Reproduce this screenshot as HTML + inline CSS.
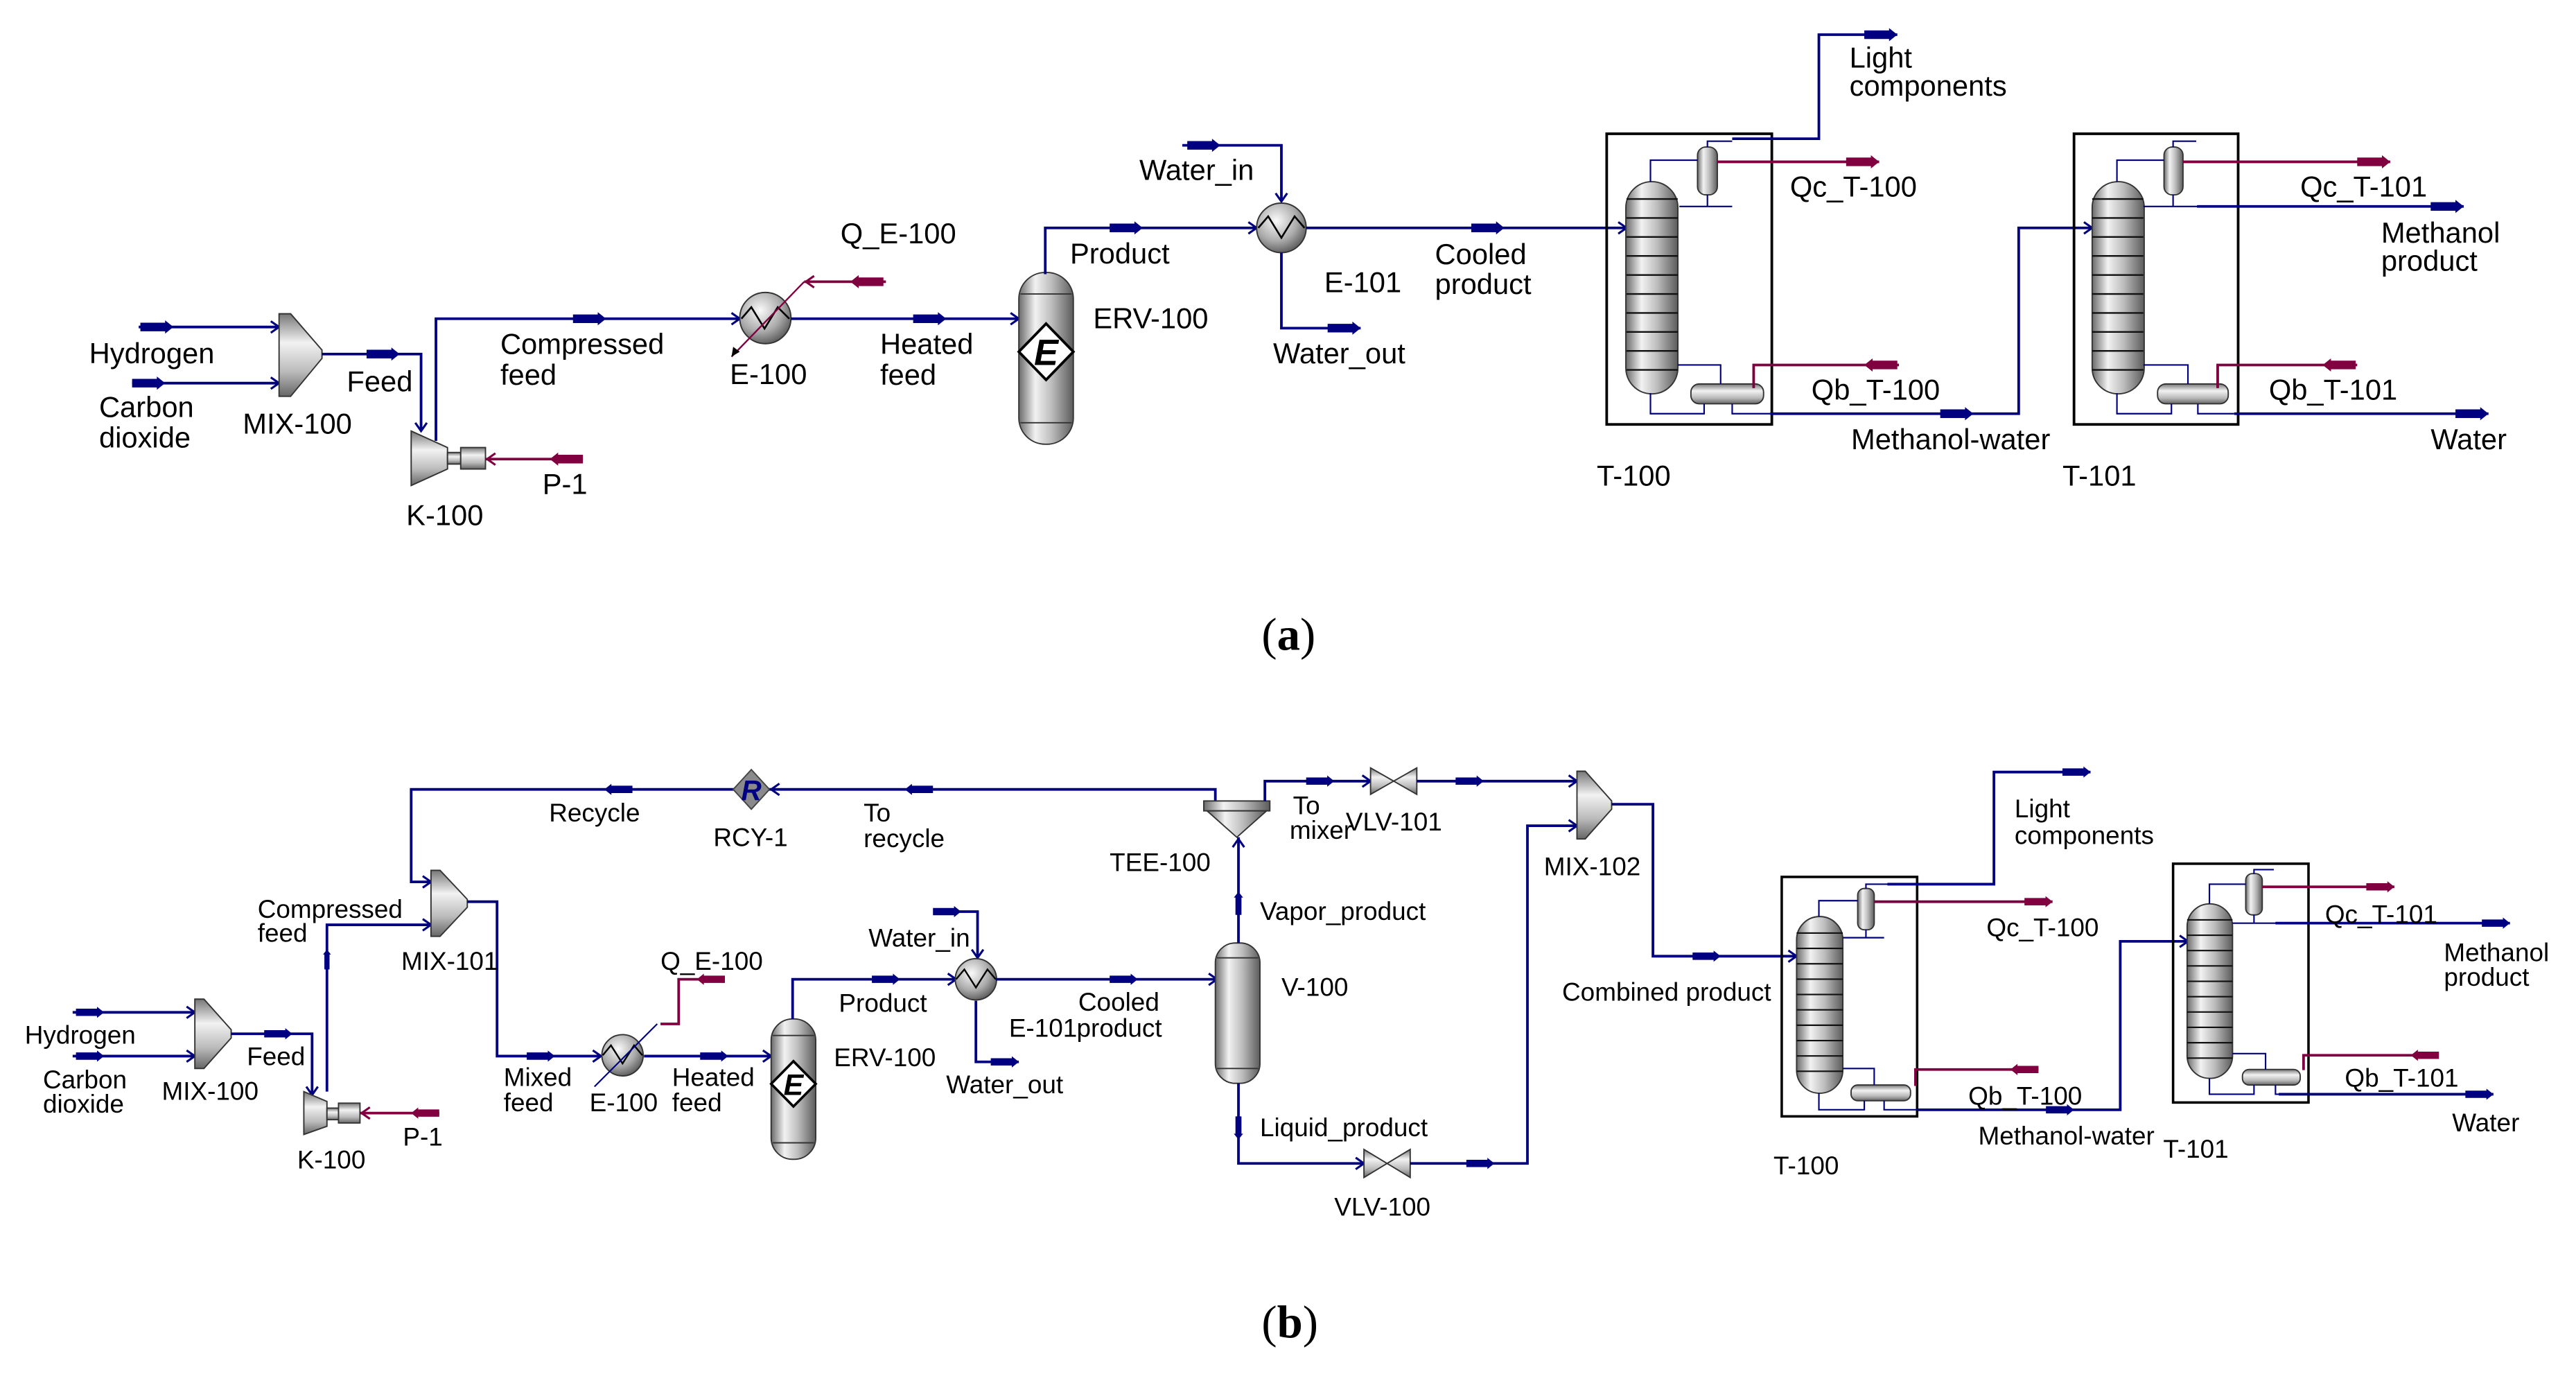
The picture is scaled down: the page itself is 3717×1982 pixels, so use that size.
<!DOCTYPE html>
<html><head><meta charset="utf-8">
<style>
html,body{margin:0;padding:0;background:#fff;}
svg{display:block;}
.a{font-family:"Liberation Sans",Arial,sans-serif;font-size:17.5px;fill:#000;}
.b{font-family:"Liberation Sans",Arial,sans-serif;font-size:15.5px;fill:#000;}
.ln{fill:none;stroke:#000080;stroke-width:1.6;}
.lt{fill:none;stroke:#000080;stroke-width:0.9;}
.rl{fill:none;stroke:#800040;stroke-width:1.6;}
.eq{stroke:#333;stroke-width:0.8;}
</style></head>
<body>
<svg width="3717" height="1982" viewBox="0 0 1560 832" preserveAspectRatio="none" xmlns="http://www.w3.org/2000/svg">
<defs>
<linearGradient id="gv" x1="0" y1="0" x2="1" y2="0">
<stop offset="0" stop-color="#6a6a6a"/><stop offset="0.3" stop-color="#f2f2f2"/><stop offset="0.6" stop-color="#bdbdbd"/><stop offset="1" stop-color="#5c5c5c"/></linearGradient>
<linearGradient id="gh" x1="0" y1="0" x2="0" y2="1">
<stop offset="0" stop-color="#777"/><stop offset="0.35" stop-color="#f2f2f2"/><stop offset="0.7" stop-color="#bbb"/><stop offset="1" stop-color="#666"/></linearGradient>
<radialGradient id="gr" cx="0.4" cy="0.35" r="0.7">
<stop offset="0" stop-color="#fafafa"/><stop offset="0.6" stop-color="#aaa"/><stop offset="1" stop-color="#555"/></radialGradient>
<path id="bb" d="M-20,-2.6 H-5 V-4 L0,0 L-5,4 V2.6 H-20 Z" fill="#000080"/>
<path id="rb" d="M-20,-2.6 H-5 V-4 L0,0 L-5,4 V2.6 H-20 Z" fill="#800040"/>
<path id="ch" d="M-5,-3.5 L0,0 L-5,3.5" fill="none" stroke="#000080" stroke-width="1.3"/>
<path id="chr" d="M-5,-3.5 L0,0 L-5,3.5" fill="none" stroke="#800040" stroke-width="1.3"/>
</defs>

<!-- ================= (a) ================= -->
<!-- streams -->
<path class="ln" d="M84,198 H169"/><use href="#bb" transform="translate(105,198)"/><use href="#ch" transform="translate(169,198)"/>
<path class="ln" d="M80,232 H169"/><use href="#bb" transform="translate(100,232)"/><use href="#ch" transform="translate(169,232)"/>
<polygon class="eq" fill="url(#gh)" points="169,190 176,190 195,212 195,217 176,240 169,240"/>
<path class="ln" d="M195,214.4 H255 V261"/><use href="#bb" transform="translate(242,214.4)"/><use href="#ch" transform="translate(255,261) rotate(90)"/>
<!-- K-100 -->
<polygon class="eq" fill="url(#gh)" points="249,261 271,271 271,284 249,294"/>
<rect class="eq" x="271" y="274" width="8" height="7" fill="url(#gh)"/>
<rect class="eq" x="279" y="271" width="15" height="13" fill="url(#gh)"/>
<path class="rl" d="M353,278 H294"/><use href="#rb" transform="translate(333,278) scale(-1,1)"/><use href="#chr" transform="translate(295,278) scale(-1,1)"/>
<path class="ln" d="M264,267 V193 H448"/><use href="#bb" transform="translate(367,193)"/><use href="#ch" transform="translate(448,193)"/>
<!-- E-100 -->
<circle class="eq" cx="463.5" cy="192.6" r="15.5" fill="url(#gr)"/>
<polyline points="449,193 455,186 463,199 471,186 478,193" fill="none" stroke="#000" stroke-width="1.1"/>
<path class="rl" d="M536.5,170.6 H487"/><path fill="none" stroke="#800040" stroke-width="1" d="M487,170.6 L443,216"/><path d="M443,216 l1,-6 l4,3 z" fill="#000"/>
<use href="#rb" transform="translate(515,170.6) scale(-1,1)"/><use href="#chr" transform="translate(488,170.6) scale(-1,1)"/>
<path class="ln" d="M479,193 H617"/><use href="#bb" transform="translate(573,193)"/><use href="#ch" transform="translate(617,193)"/>
<!-- ERV-100 -->
<rect class="eq" x="617" y="165" width="33" height="104" rx="16" fill="url(#gv)"/>
<path d="M618,178 H649 M618,256 H649" stroke="#333" stroke-width="0.8"/>
<polygon points="633.5,196 650,213 633.5,230 617,213" fill="#fff" stroke="#000" stroke-width="1.6"/>
<text x="633.5" y="221" text-anchor="middle" font-family="Liberation Sans,sans-serif" font-size="22" font-weight="bold" font-style="italic">E</text>
<path class="ln" d="M633,166 V138 H761"/><use href="#bb" transform="translate(692,138)"/><use href="#ch" transform="translate(761,138)"/>
<path class="ln" d="M716,88 H776 V122"/><use href="#bb" transform="translate(739,88)"/><use href="#ch" transform="translate(776,122) rotate(90)"/>
<circle class="eq" cx="776" cy="138" r="15" fill="url(#gr)"/>
<polyline points="762,138 768,131 776,144 784,131 790,138" fill="none" stroke="#000" stroke-width="1.1"/>
<path class="ln" d="M776,153 V198.7 H824"/><use href="#bb" transform="translate(824,198.7)"/>
<path class="ln" d="M791,138 H984"/><use href="#bb" transform="translate(911,138)"/><use href="#ch" transform="translate(985,138)"/>
<!-- T-100 (a) -->
<rect x="973" y="81" width="100" height="176" fill="none" stroke="#000" stroke-width="1.6"/>
<rect class="eq" x="984.6" y="110" width="31.5" height="128.5" rx="15.7" fill="url(#gv)"/>
<path stroke="#111" stroke-width="1" d="M985,120.5H1016M985,132H1016M985,143.5H1016M985,155H1016M985,166.5H1016M985,178H1016M985,189.5H1016M985,201H1016M985,212.5H1016M985,224H1016"/>
<rect class="eq" x="1028" y="89" width="12" height="29" rx="5" fill="url(#gv)"/>
<path class="lt" d="M999.5,110 V97 H1028 M1034,118 V125 M1017,125 H1049 M1034,89 V85.5 H1049"/>
<path class="ln" d="M1049,84 H1101.5 V21 H1149"/><use href="#bb" transform="translate(1149,21)"/>
<path class="rl" d="M1040,98 H1138"/><use href="#rb" transform="translate(1138,98)"/>
<rect class="eq" x="1024" y="232.5" width="44" height="12" rx="5" fill="url(#gh)"/>
<path class="lt" d="M1016,221 H1042 V232.5 M999.5,238 V250.5 H1032 V244.5 M1049,244.5 V250.5 H1072"/>
<path class="rl" d="M1150,221 H1062 V235"/><use href="#rb" transform="translate(1129,221) scale(-1,1)"/>
<path class="ln" d="M1072,250.5 H1222.5 V138 H1267"/><use href="#bb" transform="translate(1195,250.5)"/><use href="#ch" transform="translate(1267,138)"/>
<!-- T-101 (a) -->
<rect x="1256" y="81" width="99.4" height="176" fill="none" stroke="#000" stroke-width="1.6"/>
<rect class="eq" x="1267" y="110" width="31.5" height="128.5" rx="15.7" fill="url(#gv)"/>
<path stroke="#111" stroke-width="1" d="M1267,120.5H1298M1267,132H1298M1267,143.5H1298M1267,155H1298M1267,166.5H1298M1267,178H1298M1267,189.5H1298M1267,201H1298M1267,212.5H1298M1267,224H1298"/>
<rect class="eq" x="1310.5" y="89" width="11.5" height="29" rx="5" fill="url(#gv)"/>
<path class="lt" d="M1282,110 V97 H1310.5 M1316,118 V125 M1298,125 H1331 M1316,89 V85.5 H1330"/>
<path class="ln" d="M1330.5,125 H1492"/><use href="#bb" transform="translate(1492,125)"/>
<path class="rl" d="M1322,98 H1447.5"/><use href="#rb" transform="translate(1447.5,98)"/>
<rect class="eq" x="1306.6" y="232.5" width="42.8" height="12" rx="5" fill="url(#gh)"/>
<path class="lt" d="M1298,221 H1325 V232.5 M1282,238 V250.5 H1315 V244.5 M1331,244.5 V250.5 H1353"/>
<path class="rl" d="M1427.5,221 H1343 V235"/><use href="#rb" transform="translate(1406.6,221) scale(-1,1)"/>
<path class="ln" d="M1353,250.5 H1507"/><use href="#bb" transform="translate(1507,250.5)"/>

<!-- labels (a) -->
<g class="a">
<text x="54" y="220">Hydrogen</text>
<text x="60" y="252.5">Carbon</text><text x="60" y="271">dioxide</text>
<text x="147" y="262.6">MIX-100</text>
<text x="210" y="237">Feed</text>
<text x="246" y="318">K-100</text>
<text x="328.5" y="299">P-1</text>
<text x="303" y="214.4">Compressed</text><text x="303" y="233">feed</text>
<text x="509" y="147.4">Q_E-100</text>
<text x="442" y="232.5">E-100</text>
<text x="533" y="214.4">Heated</text><text x="533" y="233">feed</text>
<text x="662" y="198.7">ERV-100</text>
<text x="648" y="159.5">Product</text>
<text x="690" y="109">Water_in</text>
<text x="771" y="220">Water_out</text>
<text x="802" y="177">E-101</text>
<text x="869" y="160">Cooled</text><text x="869" y="178">product</text>
<text x="1120" y="41">Light</text><text x="1120" y="58">components</text>
<text x="1084" y="119">Qc_T-100</text>
<text x="1097" y="242">Qb_T-100</text>
<text x="1121" y="272">Methanol-water</text>
<text x="967" y="294">T-100</text>
<text x="1393" y="119">Qc_T-101</text>
<text x="1442" y="147">Methanol</text><text x="1442" y="164">product</text>
<text x="1374" y="242">Qb_T-101</text>
<text x="1472" y="272">Water</text>
<text x="1249" y="294">T-101</text>
</g>
<text x="764" y="393.6" font-family="Liberation Serif,serif" font-size="28">(<tspan font-weight="bold">a</tspan>)</text>

<!-- ================= (b) ================= -->
<path class="ln" d="M44,613 H118"/><use href="#bb" transform="translate(63,613) scale(0.85)"/><use href="#ch" transform="translate(118,613)"/>
<path class="ln" d="M44,639.5 H118"/><use href="#bb" transform="translate(63,639.5) scale(0.85)"/><use href="#ch" transform="translate(118,639.5)"/>
<polygon class="eq" fill="url(#gh)" points="118,605 123.5,605 140,623.5 140,628.5 123.5,647 118,647"/>
<path class="ln" d="M140,626 H189 V663"/><use href="#bb" transform="translate(177,626) scale(0.85)"/><use href="#ch" transform="translate(189,663) rotate(90)"/>
<polygon class="eq" fill="url(#gh)" points="184,661 198,667 198,682 184,687"/>
<rect class="eq" x="198" y="671" width="7" height="7" fill="url(#gh)"/>
<rect class="eq" x="205" y="668" width="13" height="12" fill="url(#gh)"/>
<path class="rl" d="M266,674 H218"/><use href="#rb" transform="translate(249,674) scale(-0.85,0.85)"/><use href="#chr" transform="translate(219,674) scale(-1,1)"/>
<path class="ln" d="M198,661 V560 H261"/><use href="#bb" transform="translate(198,575) rotate(-90) scale(0.6)"/><use href="#ch" transform="translate(261,560)"/>
<!-- recycle -->
<path class="ln" d="M736,485 V478 H249 V534 H261"/><use href="#ch" transform="translate(261,534)"/>
<use href="#bb" transform="translate(366,478) scale(-0.85,0.85)"/><use href="#bb" transform="translate(548,478) scale(-0.85,0.85)"/>
<polygon points="455,466 466,478 455,490 444,478" fill="#8a8a8a" stroke="#444" stroke-width="0.8"/>
<text x="455" y="484.5" text-anchor="middle" font-family="Liberation Sans,sans-serif" font-size="17" font-weight="bold" font-style="italic" fill="#000080">R</text>
<use href="#ch" transform="translate(467,478) scale(-1,1)"/>
<polygon class="eq" fill="url(#gh)" points="261,527 266.5,527 283,544.6 283,549.4 266.5,567 261,567"/>
<path class="ln" d="M283,546 H301 V639.5 H363"/><use href="#bb" transform="translate(336,639.5) scale(0.85)"/><use href="#ch" transform="translate(364,639.5)"/>
<circle class="eq" cx="377" cy="639" r="12.5" fill="url(#gr)"/>
<polyline points="365,639 370,633 377,644 384,633 389,639" fill="none" stroke="#000" stroke-width="1"/>
<path class="rl" d="M439,593 H411 V620 H400"/><path fill="none" stroke="#000080" stroke-width="0.9" d="M398,620 L360,658"/>
<use href="#rb" transform="translate(422,593) scale(-0.85,0.85)"/>
<path class="ln" d="M390,639.5 H467"/><use href="#bb" transform="translate(441,639.5) scale(0.85)"/><use href="#ch" transform="translate(467,639.5)"/>
<!-- ERV-100 b -->
<rect class="eq" x="467" y="617" width="27" height="85" rx="13" fill="url(#gv)"/>
<path d="M468,627 H493 M468,692 H493" stroke="#333" stroke-width="0.8"/>
<polygon points="480.5,642.6 494,656.3 480.5,670 467,656.3" fill="#fff" stroke="#000" stroke-width="1.5"/>
<text x="480.5" y="663" text-anchor="middle" font-family="Liberation Sans,sans-serif" font-size="18" font-weight="bold" font-style="italic">E</text>
<path class="ln" d="M480,617 V593 H579"/><use href="#bb" transform="translate(545,593) scale(0.85)"/><use href="#ch" transform="translate(579,593)"/>
<path class="ln" d="M567,552 H592 V580"/><use href="#bb" transform="translate(582,552) scale(0.85)"/><use href="#ch" transform="translate(592,580) rotate(90)"/>
<circle class="eq" cx="591" cy="593" r="12.5" fill="url(#gr)"/>
<polyline points="579,593 584,587 591,598 598,587 603,593" fill="none" stroke="#000" stroke-width="1"/>
<path class="ln" d="M591,606 V643 H617"/><use href="#bb" transform="translate(617,643) scale(0.85)"/>
<path class="ln" d="M603,593 H736"/><use href="#bb" transform="translate(689,593) scale(0.85)"/><use href="#ch" transform="translate(737,593)"/>
<!-- V-100 -->
<rect class="eq" x="736" y="571" width="27" height="85" rx="12" fill="url(#gv)"/>
<path d="M737,580 H762 M737,647 H762" stroke="#333" stroke-width="0.8"/>
<path class="ln" d="M750,571 V507"/><use href="#bb" transform="translate(750,540) rotate(-90) scale(0.7)"/><use href="#ch" transform="translate(750,508) rotate(-90)"/>
<!-- TEE -->
<rect class="eq" x="729" y="485" width="40" height="6" fill="url(#gv)"/>
<polygon class="eq" fill="url(#gv)" points="731,491 767,491 749,507"/>
<path class="ln" d="M766,485 V473 H830"/><use href="#bb" transform="translate(808,473) scale(0.85)"/><use href="#ch" transform="translate(830,473)"/>
<polygon class="eq" fill="url(#gh)" points="830,465 844,473 830,481"/><polygon class="eq" fill="url(#gh)" points="858,465 844,473 858,481"/>
<path class="ln" d="M858,473 H955"/><use href="#bb" transform="translate(898.5,473) scale(0.85)"/><use href="#ch" transform="translate(955,473)"/>
<path class="ln" d="M750,656 V704.5 H826"/><use href="#bb" transform="translate(750,690) rotate(90) scale(0.7)"/><use href="#ch" transform="translate(826,704.5)"/>
<polygon class="eq" fill="url(#gh)" points="826,696 840,704.5 826,713"/><polygon class="eq" fill="url(#gh)" points="854,696 840,704.5 854,713"/>
<path class="ln" d="M854,704.5 H925 V500 H955"/><use href="#bb" transform="translate(905,704.5) scale(0.85)"/><use href="#ch" transform="translate(955,500)"/>
<polygon class="eq" fill="url(#gh)" points="955,467 960,467 976,485 976,490 960,508 955,508"/>
<path class="ln" d="M976,487 H1001 V579 H1088"/><use href="#bb" transform="translate(1042,579) scale(0.85)"/><use href="#ch" transform="translate(1088,579)"/>
<!-- T-100 b -->
<rect x="1079" y="531" width="82" height="145" fill="none" stroke="#000" stroke-width="1.5"/>
<rect class="eq" x="1088" y="555" width="28" height="107" rx="14" fill="url(#gv)"/>
<path stroke="#111" stroke-width="0.9" d="M1088,565H1116M1088,574.3H1116M1088,583.6H1116M1088,592.9H1116M1088,602.2H1116M1088,611.5H1116M1088,620.8H1116M1088,630.1H1116M1088,639.4H1116M1088,648.7H1116"/>
<rect class="eq" x="1125" y="538" width="10" height="25" rx="4" fill="url(#gv)"/>
<path class="lt" d="M1101.5,555 V545.4 H1125 M1130,563 V567.8 H1116 M1130,567.8 H1141 M1130,538 V535.4 H1145"/>
<path class="ln" d="M1143,535.4 H1207.5 V467.5 H1266"/><use href="#bb" transform="translate(1266,467.5) scale(0.85)"/>
<path class="rl" d="M1135,546 H1243"/><use href="#rb" transform="translate(1243,546) scale(0.85)"/>
<rect class="eq" x="1121" y="657" width="36" height="9.5" rx="4" fill="url(#gh)"/>
<path class="lt" d="M1116,647 H1135 V657 M1101.5,662 V672 H1129 V666.5 M1141,666.5 V672 H1161"/>
<path class="rl" d="M1234.5,647.6 H1160 V657.6"/><use href="#rb" transform="translate(1217.5,647.6) scale(-0.85,0.85)"/>
<path class="ln" d="M1161,672 H1284 V570 H1324"/><use href="#bb" transform="translate(1256,672) scale(0.85)"/><use href="#ch" transform="translate(1325,570)"/>
<!-- T-101 b -->
<rect x="1316" y="523" width="82" height="144.6" fill="none" stroke="#000" stroke-width="1.5"/>
<rect class="eq" x="1324.5" y="547.3" width="27.5" height="105.7" rx="13.7" fill="url(#gv)"/>
<path stroke="#111" stroke-width="0.9" d="M1324.5,557H1352M1324.5,566.3H1352M1324.5,575.6H1352M1324.5,584.9H1352M1324.5,594.2H1352M1324.5,603.5H1352M1324.5,612.8H1352M1324.5,622.1H1352M1324.5,631.4H1352M1324.5,640.7H1352"/>
<rect class="eq" x="1360" y="529" width="10" height="25" rx="4" fill="url(#gv)"/>
<path class="lt" d="M1338,547.3 V535.4 H1360 M1365,554 V559 M1352,559 H1380 M1365,529 V526.6 H1377"/>
<path class="ln" d="M1378,559 H1520"/><use href="#bb" transform="translate(1520,559) scale(0.85)"/>
<path class="rl" d="M1370,537 H1450"/><use href="#rb" transform="translate(1450,537) scale(0.85)"/>
<rect class="eq" x="1358" y="647.6" width="35" height="9.4" rx="4" fill="url(#gh)"/>
<path class="lt" d="M1352,638 H1372 V647.6 M1338,653 V662.6 H1365 V657 M1378,657 V662.6 H1390"/>
<path class="rl" d="M1476,639 H1395 V648"/><use href="#rb" transform="translate(1460,639) scale(-0.85,0.85)"/>
<path class="ln" d="M1380,662.6 H1510"/><use href="#bb" transform="translate(1510,662.6) scale(0.85)"/>

<!-- labels (b) -->
<g class="b">
<text x="332.5" y="497.5">Recycle</text>
<text x="432" y="512.4">RCY-1</text>
<text x="523" y="497.5">To</text><text x="523" y="513">recycle</text>
<text x="672" y="527.4">TEE-100</text>
<text x="156" y="555.8">Compressed</text><text x="156" y="570.3">feed</text>
<text x="243" y="587.3">MIX-101</text>
<text x="400" y="587.3">Q_E-100</text>
<text x="15" y="632">Hydrogen</text>
<text x="26" y="659">Carbon</text><text x="26" y="673.8">dioxide</text>
<text x="149.5" y="645">Feed</text>
<text x="98" y="666">MIX-100</text>
<text x="180" y="707.5">K-100</text>
<text x="244" y="693.7">P-1</text>
<text x="305" y="657.6">Mixed</text><text x="305" y="673">feed</text>
<text x="357" y="673">E-100</text>
<text x="407" y="657.6">Heated</text><text x="407" y="673">feed</text>
<text x="508" y="612.7">Product</text>
<text x="526" y="573.3">Water_in</text>
<text x="505" y="645.6">ERV-100</text>
<text x="573" y="662">Water_out</text>
<text x="611" y="627.7">E-101</text>
<text x="653" y="612">Cooled</text><text x="652" y="627.7">product</text>
<text x="783" y="493">To</text><text x="781" y="508">mixer</text>
<text x="815" y="503">VLV-101</text>
<text x="763" y="557">Vapor_product</text>
<text x="776" y="603">V-100</text>
<text x="763" y="688">Liquid_product</text>
<text x="808" y="736">VLV-100</text>
<text x="935" y="530">MIX-102</text>
<text x="946" y="606">Combined product</text>
<text x="1220" y="495">Light</text><text x="1220" y="511">components</text>
<text x="1203" y="567">Qc_T-100</text>
<text x="1192" y="669">Qb_T-100</text>
<text x="1198" y="693">Methanol-water</text>
<text x="1310" y="701">T-101</text>
<text x="1074" y="711">T-100</text>
<text x="1408" y="559">Qc_T-101</text>
<text x="1480" y="582">Methanol</text><text x="1480" y="597">product</text>
<text x="1420" y="658">Qb_T-101</text>
<text x="1485" y="685">Water</text>
</g>
<text x="764" y="810" font-family="Liberation Serif,serif" font-size="28">(<tspan font-weight="bold">b</tspan>)</text>
</svg>
</body></html>
